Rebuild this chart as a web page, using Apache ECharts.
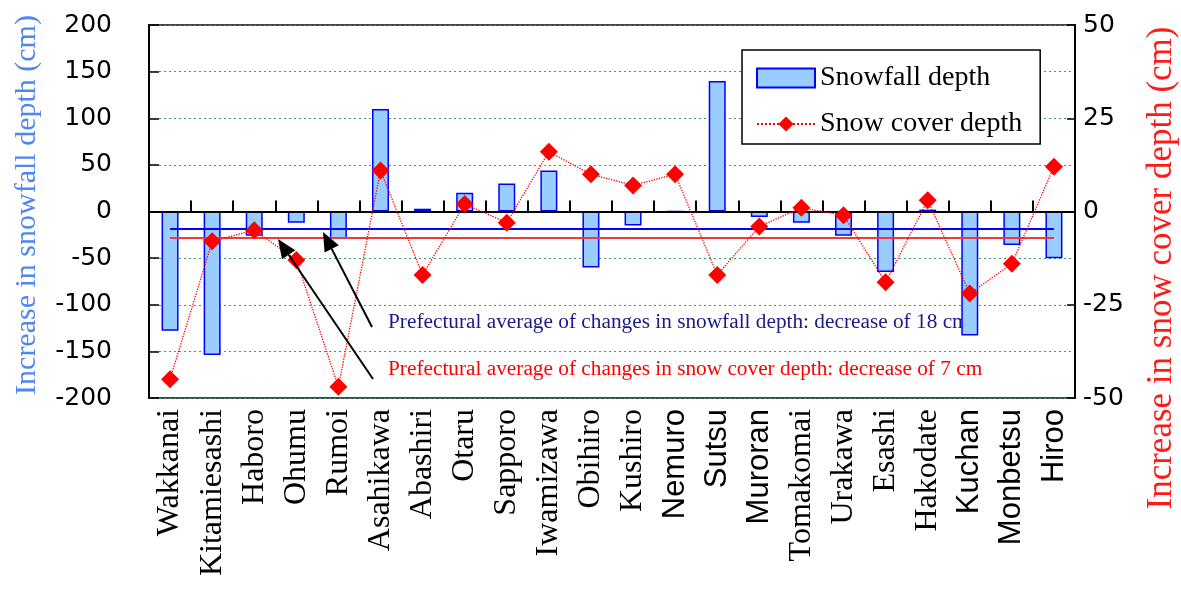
<!DOCTYPE html>
<html>
<head>
<meta charset="utf-8">
<script src="https://cdn.jsdelivr.net/npm/echarts@6/dist/echarts.min.js"></script>
<style>
html,body{margin:0;padding:0;background:#fff;}
#chart{width:1181px;height:610px;}
</style>
</head>
<body>
<div id="chart"></div>
<script>
const categories = ['Wakkanai','Kitamiesashi','Haboro','Ohumu','Rumoi','Asahikawa','Abashiri','Otaru','Sapporo','Iwamizawa','Obihiro','Kushiro','Nemuro','Sutsu','Muroran','Tomakomai','Urakawa','Esashi','Hakodate','Kuchan','Monbetsu','Hiroo'];
const sansLabels = ['Nemuro','Sutsu','Muroran','Kuchan','Monbetsu','Hiroo'];
const snowfallDepth = [-128,-154,-26,-12,-29,110,3,20,30,44,-60,-15,0,140,-6,-12,-26,-65,2,-133,-36,-50];
const snowCoverDepth = [-45,-8,-5,-13,-47,11,-17,2,-3,16,10,7,10,-17,-4,1,-1,-19,3,-22,-14,12];
const avgSnowfall = -18;
const avgSnowCover = -7;
const noteSnowfall = 'Prefectural average of changes in snowfall depth: decrease of 18 cm';
const noteSnowCover = 'Prefectural average of changes in snow cover depth: decrease of 7 cm';

const chart = echarts.init(document.getElementById('chart'));
const serif = '"Liberation Serif", "Times New Roman", serif';
const sans = '"Liberation Sans", Arial, sans-serif';

function arrow(x1, y1, x2, y2) {
  const dx = x2 - x1, dy = y2 - y1, L = Math.hypot(dx, dy);
  const ux = dx / L, uy = dy / L, hl = 19, hw = 8;
  const bx = x2 - ux * hl, by = y2 - uy * hl;
  const px = -uy * hw, py = ux * hw;
  return [
    {type:'line', shape:{x1:x1, y1:y1, x2:bx, y2:by}, style:{stroke:'#000', lineWidth:2}, z:100},
    {type:'polygon', shape:{points:[[x2,y2],[bx+px,by+py],[bx-px,by-py]]}, style:{fill:'#000'}, z:100}
  ];
}

const option = {
  animation: false,
  backgroundColor: '#fff',
  grid: {left:149, right:106, top:25, bottom:212, show:true, borderColor:'#444', borderWidth:2, backgroundColor:'transparent'},
  legend: {
    orient:'vertical', left:742, top:50,
    padding:[13,18,5,14], itemGap:16, itemWidth:58, itemHeight:19,
    backgroundColor:'#fff', borderColor:'#000', borderWidth:1.5, borderRadius:0,
    textStyle:{fontFamily:serif, fontSize:28, color:'#000', lineHeight:30},
    data:[
      {name:'Snowfall depth', icon:'rect'},
      {name:'Snow cover depth'}
    ]
  },
  xAxis: [
    {
      type:'category', data:categories, position:'bottom',
      axisLine:{show:true, onZero:true, lineStyle:{color:'#000', width:2}},
      axisTick:{show:true, inside:true, length:11, interval:0, lineStyle:{color:'#000', width:2}},
      axisLabel:{show:false}, splitLine:{show:false}, z:5
    },
    {
      type:'category', data:categories, position:'bottom', offset:0,
      axisLine:{show:false, onZero:false}, axisTick:{show:false}, splitLine:{show:false},
      axisLabel:{
        show:true, rotate:90, margin:11, interval:0,
        formatter: v => sansLabels.includes(v) ? '{s|' + v + '}' : '{r|' + v + '}',
        rich:{
          s:{fontFamily:sans, fontSize:31, color:'#000'},
          r:{fontFamily:serif, fontSize:32, color:'#000'}
        }
      }
    }
  ],
  yAxis: [
    {
      type:'value', min:-200, max:200, interval:50, position:'left',
      axisLine:{show:true, lineStyle:{color:'#000', width:2}},
      axisTick:{show:true, inside:true, length:10, lineStyle:{color:'#000', width:1.5}},
      axisLabel:{margin:37, fontFamily:'"DejaVu Sans", sans-serif', fontSize:25, color:'#000'},
      splitLine:{show:true, lineStyle:{color:'#3c9a6a', type:[2,3], width:1}}
    },
    {
      type:'value', min:-50, max:50, interval:25, position:'right',
      axisLine:{show:true, lineStyle:{color:'#000', width:2}},
      axisTick:{show:true, inside:true, length:8, lineStyle:{color:'#000', width:1.5}},
      axisLabel:{margin:8, fontFamily:'"DejaVu Sans", sans-serif', fontSize:25, color:'#000'},
      splitLine:{show:false}
    }
  ],
  series: [
    {
      name:'Snowfall depth', type:'bar', xAxisIndex:0, yAxisIndex:0, data:snowfallDepth,
      barWidth:17,
      itemStyle:{color:'#99ccff', borderColor:'#0000ff', borderWidth:1.5},
      markLine:{
        silent:true, symbol:['none','none'], label:{show:false},
        lineStyle:{color:'#0000ff', width:2, type:'solid'},
        data:[[{coord:[0, avgSnowfall]},{coord:[categories.length-1, avgSnowfall]}]]
      },
      z:2
    },
    {
      name:'Snow cover depth', type:'line', xAxisIndex:0, yAxisIndex:1, data:snowCoverDepth,
      symbol:'diamond', symbolSize:18,
      lineStyle:{color:'#ff0000', width:1.3, type:'dotted'},
      itemStyle:{color:'#ff0000'},
      markLine:{
        silent:true, symbol:['none','none'], label:{show:false},
        lineStyle:{color:'#f03a3a', width:2, type:'solid'},
        data:[[{coord:[0, avgSnowCover]},{coord:[categories.length-1, avgSnowCover]}]]
      },
      z:10
    }
  ],
  graphic: [
    {type:'text', x:27, y:205, rotation:Math.PI/2, style:{text:'Increase in snowfall depth (cm)', fontFamily:serif, fontSize:30, fill:'#4f86f0', textAlign:'center', textVerticalAlign:'middle'}},
    {type:'text', x:1162, y:268, rotation:Math.PI/2, style:{text:'Increase in snow cover depth (cm)', fontFamily:serif, fontSize:35, fill:'#ff1a1a', textAlign:'center', textVerticalAlign:'middle'}},
    {type:'text', x:388, y:322, style:{text:noteSnowfall, fontFamily:serif, fontSize:21.3, fill:'#1a1a8a', textAlign:'left', textVerticalAlign:'middle'}, z:1},
    {type:'text', x:388, y:369, style:{text:noteSnowCover, fontFamily:serif, fontSize:21.3, fill:'#ff0000', textAlign:'left', textVerticalAlign:'middle'}, z:1},
    ...arrow(372, 327, 323, 232),
    ...arrow(373, 379, 278, 239)
  ]
};
chart.setOption(option);
</script>
</body>
</html>
